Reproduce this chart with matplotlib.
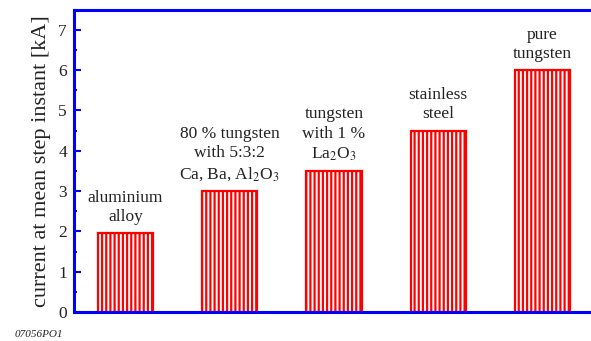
import matplotlib
matplotlib.use("Agg")
import matplotlib.pyplot as plt

plt.rcParams['font.family'] = ['Liberation Serif', 'DejaVu Serif']
plt.rcParams['mathtext.fontset'] = 'stix'
plt.rcParams['hatch.linewidth'] = 1.6

materials = [
    "aluminium\nalloy",
    "80 % tungsten\nwith 5:3:2\nCa, Ba, Al$_2$O$_3$",
    "tungsten\nwith 1 %\nLa$_2$O$_3$",
    "stainless\nsteel",
    "pure\ntungsten",
]
current_kA = [1.95, 3.0, 3.5, 4.5, 6.0]
positions = [1, 2, 3, 4, 5]
y_ticks = [0, 1, 2, 3, 4, 5, 6, 7]

fig = plt.figure(figsize=(5.91, 3.41), dpi=100)
ax = fig.add_axes([0.125, 0.085, 0.875, 0.887])

ax.bar(positions, current_kA, width=0.53, color='white', edgecolor='red',
       linewidth=1.6, hatch='||||', zorder=2)

for x, v, lab in zip(positions, current_kA, materials):
    ax.text(x, v + 0.2, lab, ha='center', va='bottom', fontsize=12.5,
            linespacing=1.28, color='#222222')

ax.set_xlim(0.506, 5.465)
ax.set_ylim(0, 7.5)
ax.set_yticks(y_ticks)
ax.set_yticks([y + 0.5 for y in y_ticks], minor=True)
ax.set_xticks([])

for side in ('left', 'top', 'bottom'):
    ax.spines[side].set_color('blue')
    ax.spines[side].set_linewidth(2.2)
ax.spines['right'].set_visible(False)

ax.tick_params(axis='y', which='major', direction='in', length=5, width=1.5,
               color='blue', labelsize=12.5, labelcolor='#222222', pad=5)
ax.tick_params(axis='y', which='minor', direction='in', length=2.5, width=1.5,
               color='blue')

ax.set_ylabel("current at mean step instant [kA]", fontsize=16,
              color='#222222', labelpad=5)

fig.text(0.025, 0.012, "07056PO1", fontsize=8, style='italic', color='#222222')

fig.savefig("out.png", dpi=100)
